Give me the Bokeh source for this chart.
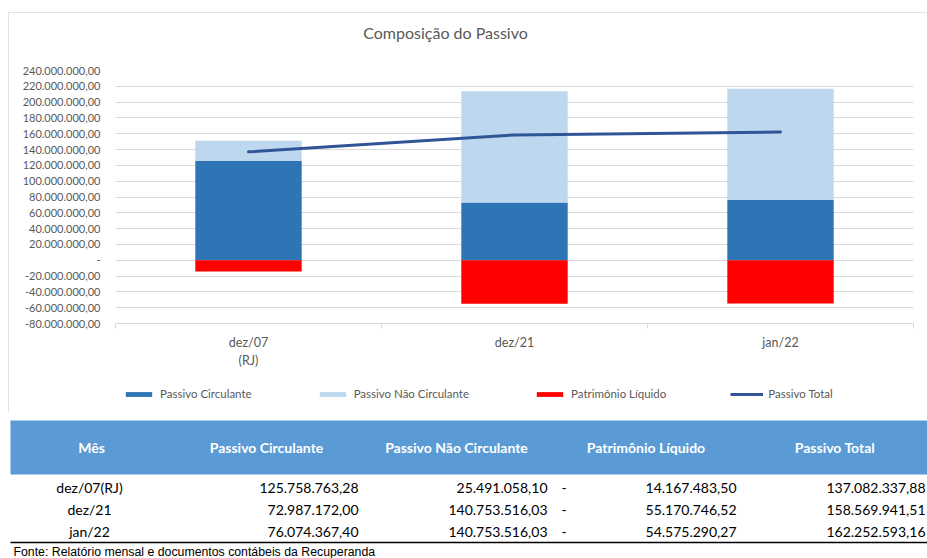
import math
from bokeh.plotting import figure
from bokeh.models import (Range1d, FixedTicker, Legend, LegendItem,
                          ColumnDataSource)
from bokeh.embed import file_html
from bokeh.resources import INLINE
from bokeh.core.properties import value

# ---------------- data ----------------
categories = ["dez/07(RJ)", "dez/21", "jan/22"]
axis_labels = ["dez/07\n(RJ)", "dez/21", "jan/22"]
passivo_circulante = [125758763.28, 72987172.00, 76074367.40]
passivo_nao_circulante = [25491058.10, 140753516.03, 140753516.03]
patrimonio_liquido = [-14167483.50, -55170746.52, -54575290.27]
passivo_total = [137082337.88, 158569941.51, 162252593.16]
y_ticks = list(range(-80_000_000, 240_000_001, 20_000_000))
series_names = ["Passivo Circulante", "Passivo Não Circulante",
                "Patrimônio Líquido", "Passivo Total"]
table_headers = ["Mês"] + series_names
title_text = "Composição do Passivo"
source_note = "Fonte: Relatório mensal e documentos contábeis da Recuperanda"


def br(v):
    return f"{v:,.2f}".replace(",", "X").replace(".", ",").replace("X", ".")


def tick_label(v):
    if v == 0:
        return "-"
    return ("-" if v < 0 else "") + br(abs(v))


FONT = "Lato"
GRAY = "#595959"
GRID = "#d9d9d9"
C_PC = "#2E75B6"
C_PNC = "#BDD7EE"
C_PL = "#FF0000"
C_PT = "#2F5597"
colors = [C_PC, C_PNC, C_PL]

# ---------------- chart ----------------
xpos = [i + 0.5 for i in range(len(categories))]
src = ColumnDataSource(dict(
    x=xpos,
    pc=passivo_circulante,
    pnc_top=[a + b for a, b in zip(passivo_circulante, passivo_nao_circulante)],
    pl=patrimonio_liquido,
    total=passivo_total,
))

p = figure(width=919, height=400,
           x_range=Range1d(0, len(categories)),
           y_range=Range1d(y_ticks[0], y_ticks[-1]),
           output_backend="svg", toolbar_location=None,
           min_border_left=107, min_border_right=14,
           min_border_top=58, min_border_bottom=89)
p.margin = (12, 0, 0, 8)
p.styles = {"outline": "1px solid #d9d9d9", "outline-offset": "-1px"}
p.outline_line_color = None
p.background_fill_color = "white"
p.border_fill_color = "white"

p.vbar(x="x", width=0.4, bottom=0, top="pc", source=src,
       fill_color=C_PC, line_color=None)
p.vbar(x="x", width=0.4, bottom="pc", top="pnc_top", source=src,
       fill_color=C_PNC, line_color=None)
p.vbar(x="x", width=0.4, bottom=0, top="pl", source=src,
       fill_color=C_PL, line_color=None)
p.line(x="x", y="total", source=src, line_color=C_PT, line_width=3,
       line_cap="round")

# x axis
xa = p.xaxis[0]
xa.ticker = FixedTicker(ticks=xpos, minor_ticks=list(range(len(categories) + 1)))
xa.major_label_overrides = dict(zip(xpos, axis_labels))
xa.axis_line_color = GRID
xa.major_tick_line_color = None
xa.major_tick_out = 0
xa.minor_tick_line_color = GRID
xa.minor_tick_in = 0
xa.minor_tick_out = 5
xa.major_label_standoff = 6
xa.major_label_text_font = FONT
xa.major_label_text_font_size = "12.5px"
xa.major_label_text_color = GRAY

# y axis
ya = p.yaxis[0]
ya.ticker = FixedTicker(ticks=y_ticks)
ya.major_label_overrides = {t: tick_label(t) for t in y_ticks}
ya.axis_line_color = None
ya.major_tick_line_color = None
ya.minor_tick_line_color = None
ya.major_tick_out = 0
ya.major_label_standoff = 15
ya.major_label_text_font = FONT
ya.major_label_text_font_size = "11px"
ya.major_label_text_color = GRAY

p.xgrid.grid_line_color = None
p.ygrid.grid_line_color = GRID
p.ygrid.grid_line_width = 1

# ------- transparent overlay: title, legend and table (page pixel coordinates) -------
TOP = 12
t = figure(width=927, height=558 - TOP, x_range=Range1d(0, 927),
           y_range=Range1d(558, TOP),
           output_backend="svg", toolbar_location=None,
           x_axis_type=None, y_axis_type=None, min_border=0)
t.margin = (-400, 0, 0, 0)
t.outline_line_color = None
t.grid.visible = False
t.background_fill_color = None
t.border_fill_color = None

t.text(x=[445], y=[32], text=[title_text], text_align="center",
       text_baseline="middle", text_font=value(FONT), text_font_size="16px",
       text_color=GRAY)

# legend swatches (same styles as the chart series; no visible data)
nan = [math.nan]
sw = [t.vbar(x=nan, top=nan, width=0.4, fill_color=c, line_color=None) for c in colors]
sw.append(t.line(x=nan, y=nan, line_color=C_PT, line_width=3))
legend = Legend(items=[LegendItem(label=n, renderers=[r]) for n, r in zip(series_names, sw)],
                orientation="horizontal", location=(122, 156.5),
                glyph_width=33, glyph_height=6, label_height=16,
                label_standoff=5, spacing=64, padding=0, margin=0,
                border_line_color=None, background_fill_alpha=0,
                label_text_font=FONT, label_text_font_size="11.5px",
                label_text_color=GRAY)
t.add_layout(legend, "center")

t.quad(left=[10], right=[927], top=[420], bottom=[474], fill_color="#5B9BD5",
       line_color=None)
header_x = [91, 266, 456, 645.5, 834.5]
t.text(x=header_x, y=[447] * len(header_x), text=table_headers,
       text_align="center", text_baseline="middle", text_font=value(FONT),
       text_font_style="bold", text_font_size="14px", text_color="white")

row_y = [487 + 22 * i for i in range(len(categories))]
tsrc = ColumnDataSource(dict(
    y=row_y,
    mes=categories,
    pc=[br(v) for v in passivo_circulante],
    pnc=[br(v) for v in passivo_nao_circulante],
    sign=["-" if v < 0 else "" for v in patrimonio_liquido],
    pl=[br(abs(v)) for v in patrimonio_liquido],
    pt=[br(v) for v in passivo_total],
))
common = dict(source=tsrc, text_baseline="middle", text_font=value(FONT),
              text_font_size="14px", text_color="black")
t.text(x=89, y="y", text="mes", text_align="center", **common)
t.text(x=358, y="y", text="pc", text_align="right", **common)
t.text(x=547, y="y", text="pnc", text_align="right", **common)
t.text(x=561, y="y", text="sign", text_align="left", **common)
t.text(x=736, y="y", text="pl", text_align="right", **common)
t.text(x=925, y="y", text="pt", text_align="right", **common)

t.segment(x0=[10], y0=[542], x1=[927], y1=[542], line_color="black", line_width=1.5)
t.text(x=[13], y=[551], text=[source_note], text_align="left",
       text_baseline="middle", text_font=value("Liberation Sans"),
       text_font_size="12.3px", text_color="black")

open("out.html", "w").write(file_html([p, t], INLINE))
